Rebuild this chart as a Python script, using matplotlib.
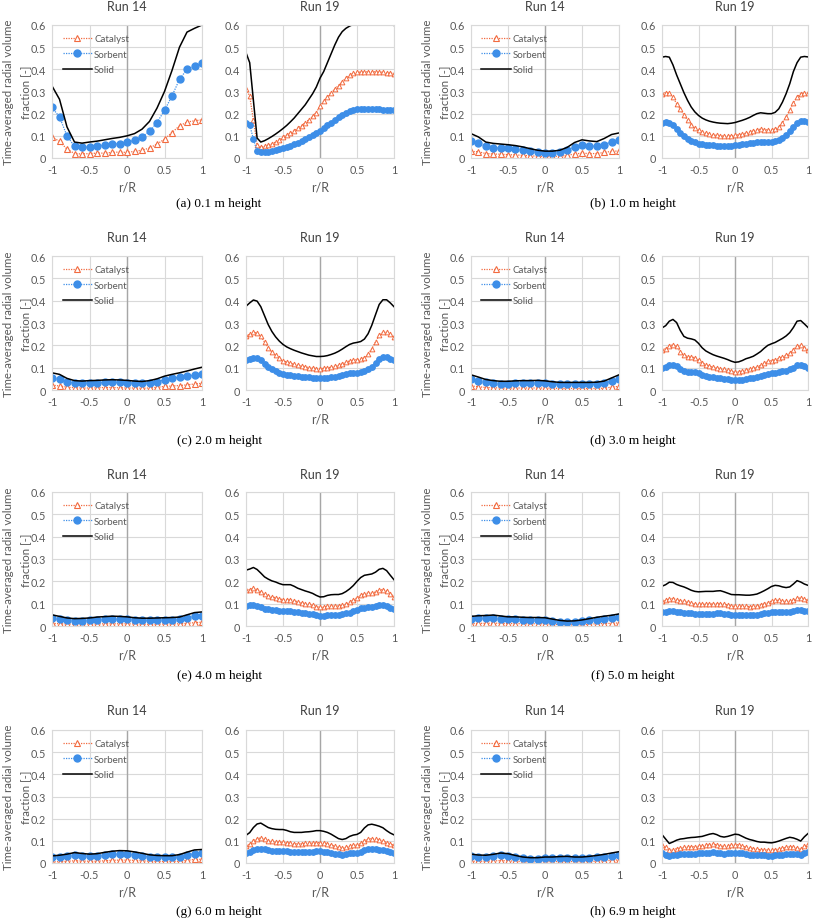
import numpy as np
import matplotlib.pyplot as plt

# r/R sample positions: Run 14 every 0.1, Run 19 every 0.05
x14 = np.linspace(-1, 1, 21)
x19 = np.linspace(-1, 1, 41)

heights = ['(a) 0.1 m height', '(b) 1.0 m height', '(c) 2.0 m height', '(d) 3.0 m height',
           '(e) 4.0 m height', '(f) 5.0 m height', '(g) 6.0 m height', '(h) 6.9 m height']

### (a) 0.1 m
cat14_a = [0.095, 0.075, 0.04, 0.02, 0.018, 0.02, 0.022, 0.022, 0.025, 0.027, 0.025,
           0.03, 0.035, 0.045, 0.063, 0.085, 0.115, 0.145, 0.162, 0.168, 0.172]
sor14_a = [0.228, 0.185, 0.10, 0.052, 0.048, 0.05, 0.053, 0.058, 0.062, 0.065, 0.07,
           0.08, 0.095, 0.12, 0.16, 0.215, 0.28, 0.355, 0.40, 0.415, 0.428]
sol14_a = [0.325, 0.265, 0.14, 0.072, 0.067, 0.072, 0.076, 0.082, 0.088, 0.093, 0.1,
           0.11, 0.13, 0.165, 0.225, 0.3, 0.395, 0.5, 0.568, 0.585, 0.6]
cat19_a = [0.31, 0.28, 0.17, 0.06, 0.05, 0.052, 0.058, 0.065, 0.072, 0.08, 0.095,
           0.104, 0.113, 0.123, 0.134, 0.146, 0.159, 0.173, 0.188, 0.205, 0.235,
           0.255, 0.275, 0.295, 0.312, 0.327, 0.345, 0.36, 0.373, 0.382, 0.386,
           0.388, 0.389, 0.389, 0.389, 0.389, 0.388, 0.387, 0.385, 0.383, 0.381]
sor19_a = [0.16, 0.15, 0.085, 0.03, 0.025, 0.026, 0.029, 0.032, 0.036, 0.04, 0.045,
           0.05, 0.056, 0.062, 0.069, 0.076, 0.084, 0.093, 0.102, 0.112, 0.123,
           0.135, 0.148, 0.16, 0.172, 0.185, 0.196, 0.205, 0.212, 0.217, 0.219,
           0.22, 0.22, 0.22, 0.22, 0.22, 0.219, 0.218, 0.217, 0.216, 0.215]
sol19_a = [0.475, 0.43, 0.26, 0.09, 0.072, 0.078, 0.087, 0.097, 0.108, 0.12, 0.133,
           0.147, 0.163, 0.18, 0.2, 0.22, 0.24, 0.265, 0.29, 0.32, 0.36,
           0.39, 0.43, 0.47, 0.51, 0.545, 0.57, 0.585, 0.595, 0.603, 0.607,
           0.608, 0.608, 0.608, 0.608, 0.608, 0.607, 0.607, 0.606, 0.61, 0.598]

### (b) 1.0 m
cat14_b = [0.03, 0.028, 0.02, 0.018, 0.017, 0.015, 0.014, 0.012, 0.01, 0.008, 0.007,
           0.007, 0.008, 0.012, 0.018, 0.022, 0.02, 0.02, 0.025, 0.03, 0.032]
sor14_b = [0.077, 0.068, 0.052, 0.047, 0.045, 0.043, 0.04, 0.036, 0.03, 0.025, 0.022,
           0.022, 0.025, 0.035, 0.05, 0.058, 0.055, 0.052, 0.06, 0.074, 0.08]
sol14_b = [0.11, 0.095, 0.072, 0.066, 0.063, 0.06, 0.056, 0.05, 0.042, 0.035, 0.031,
           0.031, 0.035, 0.048, 0.07, 0.082, 0.077, 0.074, 0.088, 0.106, 0.113]
cat19_b = [0.29, 0.295, 0.295, 0.275, 0.245, 0.22, 0.195, 0.17, 0.15, 0.135, 0.125,
           0.118, 0.112, 0.107, 0.104, 0.102, 0.1, 0.099, 0.099, 0.1, 0.102,
           0.105, 0.108, 0.112, 0.117, 0.122, 0.128, 0.13, 0.128, 0.127, 0.127,
           0.13, 0.14, 0.16, 0.185, 0.215, 0.25, 0.275, 0.29, 0.293, 0.292]
sor19_b = [0.16, 0.163, 0.16, 0.148, 0.13, 0.115, 0.1, 0.087, 0.077, 0.07, 0.065,
           0.061, 0.059, 0.058, 0.057, 0.056, 0.056, 0.056, 0.056, 0.056, 0.057,
           0.059, 0.061, 0.063, 0.066, 0.069, 0.072, 0.073, 0.072, 0.072, 0.073,
           0.076, 0.082, 0.092, 0.105, 0.122, 0.142, 0.158, 0.165, 0.165, 0.164]
sol19_b = [0.455, 0.458, 0.455, 0.42, 0.375, 0.335, 0.295, 0.26, 0.23, 0.208, 0.192,
           0.18, 0.172, 0.166, 0.162, 0.159, 0.157, 0.156, 0.155, 0.157, 0.16,
           0.165, 0.17, 0.176, 0.183, 0.192, 0.2, 0.204, 0.202, 0.2, 0.2,
           0.206, 0.222, 0.252, 0.29, 0.335, 0.39, 0.43, 0.455, 0.458, 0.456]

### (c) 2.0 m
cat14_c = [0.022, 0.018, 0.013, 0.01, 0.009, 0.009, 0.01, 0.011, 0.011, 0.01, 0.009,
           0.009, 0.008, 0.009, 0.012, 0.016, 0.018, 0.02, 0.023, 0.027, 0.03]
sor14_c = [0.055, 0.05, 0.038, 0.031, 0.03, 0.032, 0.033, 0.034, 0.035, 0.034, 0.033,
           0.031, 0.03, 0.032, 0.037, 0.045, 0.052, 0.057, 0.062, 0.067, 0.072]
sol14_c = [0.077, 0.07, 0.052, 0.042, 0.04, 0.042, 0.043, 0.045, 0.046, 0.045, 0.043,
           0.04, 0.038, 0.042, 0.05, 0.062, 0.07, 0.077, 0.085, 0.094, 0.102]
cat19_c = [0.24, 0.25, 0.258, 0.255, 0.24, 0.215, 0.19, 0.17, 0.155, 0.142, 0.132,
           0.125, 0.12, 0.115, 0.111, 0.107, 0.104, 0.1, 0.098, 0.096, 0.096,
           0.097, 0.099, 0.102, 0.106, 0.111, 0.117, 0.124, 0.13, 0.134, 0.136,
           0.138, 0.145, 0.16, 0.185, 0.215, 0.245, 0.258, 0.258, 0.25, 0.238]
sor19_c = [0.135, 0.14, 0.145, 0.143, 0.133, 0.118, 0.103, 0.092, 0.083, 0.077, 0.072,
           0.068, 0.065, 0.063, 0.061, 0.059, 0.057, 0.056, 0.055, 0.054, 0.054,
           0.054, 0.055, 0.057, 0.059, 0.062, 0.066, 0.07, 0.074, 0.076, 0.077,
           0.079, 0.083, 0.092, 0.105, 0.122, 0.138, 0.146, 0.146, 0.14, 0.135]
sol19_c = [0.375, 0.39, 0.403, 0.398, 0.373, 0.333, 0.293, 0.262, 0.238, 0.219, 0.204,
           0.193, 0.185, 0.178, 0.172, 0.166, 0.161, 0.156, 0.153, 0.15, 0.15,
           0.151, 0.154, 0.159, 0.165, 0.173, 0.183, 0.194, 0.204, 0.21, 0.213,
           0.217, 0.228, 0.252, 0.29, 0.337, 0.383, 0.404, 0.404, 0.39, 0.373]

### (d) 3.0 m
cat14_d = [0.018, 0.015, 0.011, 0.01, 0.009, 0.009, 0.009, 0.009, 0.009, 0.009, 0.009,
           0.008, 0.007, 0.007, 0.007, 0.007, 0.007, 0.007, 0.008, 0.013, 0.016]
sor14_d = [0.048, 0.042, 0.035, 0.031, 0.029, 0.029, 0.031, 0.032, 0.032, 0.033, 0.031,
           0.028, 0.026, 0.026, 0.026, 0.026, 0.026, 0.027, 0.03, 0.04, 0.049]
sol14_d = [0.068, 0.058, 0.047, 0.042, 0.039, 0.039, 0.041, 0.042, 0.042, 0.043, 0.041,
           0.037, 0.034, 0.034, 0.034, 0.034, 0.034, 0.035, 0.04, 0.054, 0.068]
cat19_d = [0.178, 0.185, 0.198, 0.203, 0.195, 0.172, 0.155, 0.15, 0.148, 0.145, 0.135,
           0.122, 0.113, 0.107, 0.102, 0.098, 0.095, 0.092, 0.088, 0.083, 0.08,
           0.081, 0.085, 0.09, 0.093, 0.097, 0.103, 0.11, 0.12, 0.128, 0.132,
           0.136, 0.142, 0.148, 0.155, 0.165, 0.18, 0.198, 0.2, 0.19, 0.18]
sor19_d = [0.1, 0.103, 0.11, 0.113, 0.107, 0.095, 0.085, 0.082, 0.081, 0.079, 0.074,
           0.067, 0.062, 0.059, 0.056, 0.054, 0.052, 0.05, 0.048, 0.046, 0.044,
           0.045, 0.047, 0.05, 0.052, 0.054, 0.058, 0.062, 0.067, 0.072, 0.075,
           0.077, 0.08, 0.083, 0.087, 0.092, 0.1, 0.11, 0.111, 0.106, 0.1]
sol19_d = [0.278, 0.288, 0.308, 0.316, 0.302, 0.267, 0.24, 0.232, 0.229, 0.224, 0.209,
           0.189, 0.175, 0.166, 0.158, 0.152, 0.147, 0.142, 0.136, 0.129, 0.124,
           0.126, 0.132, 0.14, 0.145, 0.151, 0.161, 0.172, 0.187, 0.2, 0.207,
           0.213, 0.222, 0.231, 0.242, 0.257, 0.28, 0.308, 0.311, 0.296, 0.28]

### (e) 4.0 m
cat14_e = [0.012, 0.01, 0.009, 0.008, 0.008, 0.009, 0.009, 0.01, 0.01, 0.01, 0.01,
           0.009, 0.008, 0.008, 0.008, 0.009, 0.009, 0.01, 0.012, 0.015, 0.017]
sor14_e = [0.035, 0.03, 0.026, 0.024, 0.024, 0.026, 0.028, 0.03, 0.031, 0.031, 0.03,
           0.027, 0.025, 0.025, 0.026, 0.027, 0.028, 0.03, 0.036, 0.043, 0.045]
sol14_e = [0.05, 0.043, 0.036, 0.033, 0.034, 0.036, 0.04, 0.042, 0.044, 0.043, 0.041,
           0.037, 0.035, 0.035, 0.036, 0.037, 0.038, 0.04, 0.05, 0.06, 0.063]
cat19_e = [0.16, 0.163, 0.168, 0.163, 0.153, 0.142, 0.135, 0.13, 0.127, 0.122, 0.118,
           0.118, 0.118, 0.114, 0.108, 0.104, 0.1, 0.097, 0.093, 0.087, 0.083,
           0.084, 0.088, 0.09, 0.09, 0.09, 0.092, 0.098, 0.106, 0.115, 0.127,
           0.138, 0.145, 0.147, 0.148, 0.152, 0.16, 0.163, 0.158, 0.145, 0.132]
sor19_e = [0.09, 0.092, 0.094, 0.09, 0.084, 0.078, 0.075, 0.072, 0.07, 0.068, 0.067,
           0.067, 0.067, 0.064, 0.061, 0.059, 0.057, 0.055, 0.053, 0.05, 0.047,
           0.047, 0.049, 0.05, 0.051, 0.051, 0.053, 0.056, 0.06, 0.066, 0.073,
           0.079, 0.082, 0.083, 0.085, 0.089, 0.094, 0.095, 0.09, 0.082, 0.075]
sol19_e = [0.25, 0.255, 0.262, 0.253, 0.237, 0.22, 0.21, 0.202, 0.197, 0.19, 0.185,
           0.185, 0.185, 0.178, 0.169, 0.163, 0.157, 0.152, 0.146, 0.137, 0.13,
           0.131, 0.137, 0.14, 0.141, 0.141, 0.145, 0.154, 0.166, 0.181, 0.2,
           0.217, 0.227, 0.23, 0.233, 0.241, 0.254, 0.258, 0.248, 0.227, 0.207]

### (f) 5.0 m
cat14_f = [0.01, 0.012, 0.012, 0.013, 0.012, 0.011, 0.011, 0.01, 0.01, 0.01, 0.01,
           0.008, 0.006, 0.005, 0.005, 0.006, 0.008, 0.01, 0.011, 0.012, 0.014]
sor14_f = [0.033, 0.034, 0.035, 0.036, 0.033, 0.03, 0.03, 0.029, 0.028, 0.028, 0.027,
           0.023, 0.019, 0.017, 0.018, 0.021, 0.025, 0.029, 0.033, 0.036, 0.04]
sol14_f = [0.043, 0.046, 0.047, 0.049, 0.045, 0.041, 0.041, 0.039, 0.038, 0.038, 0.037,
           0.031, 0.025, 0.022, 0.023, 0.027, 0.033, 0.039, 0.044, 0.048, 0.054]
cat19_f = [0.11, 0.115, 0.122, 0.123, 0.118, 0.113, 0.11, 0.106, 0.102, 0.099, 0.097,
           0.097, 0.098, 0.098, 0.099, 0.1, 0.1, 0.098, 0.094, 0.09, 0.088,
           0.088, 0.088, 0.088, 0.087, 0.088, 0.09, 0.095, 0.1, 0.105, 0.112,
           0.115, 0.115, 0.112, 0.11, 0.11, 0.115, 0.125, 0.125, 0.12, 0.115]
sor19_f = [0.062, 0.064, 0.067, 0.067, 0.064, 0.061, 0.059, 0.058, 0.056, 0.055, 0.054,
           0.054, 0.054, 0.055, 0.055, 0.056, 0.056, 0.055, 0.053, 0.051, 0.05,
           0.049, 0.049, 0.049, 0.049, 0.049, 0.05, 0.053, 0.056, 0.059, 0.062,
           0.064, 0.064, 0.062, 0.061, 0.062, 0.065, 0.07, 0.07, 0.067, 0.065]
sol19_f = [0.178, 0.185, 0.196, 0.195, 0.186, 0.18, 0.175, 0.168, 0.16, 0.155, 0.153,
           0.154, 0.155, 0.155, 0.155, 0.157, 0.158, 0.153, 0.147, 0.141, 0.14,
           0.14, 0.139, 0.138, 0.138, 0.14, 0.143, 0.15, 0.158, 0.167, 0.177,
           0.182, 0.18, 0.175, 0.172, 0.175, 0.188, 0.203, 0.197, 0.188, 0.182]

### (g) 6.0 m
cat14_g = [0.005, 0.006, 0.008, 0.01, 0.009, 0.008, 0.008, 0.01, 0.012, 0.013, 0.013,
           0.012, 0.01, 0.008, 0.007, 0.007, 0.007, 0.008, 0.012, 0.016, 0.017]
sor14_g = [0.025, 0.027, 0.031, 0.036, 0.033, 0.03, 0.031, 0.035, 0.039, 0.041, 0.041,
           0.038, 0.033, 0.028, 0.026, 0.025, 0.025, 0.029, 0.036, 0.042, 0.043]
sol14_g = [0.032, 0.035, 0.04, 0.047, 0.043, 0.04, 0.042, 0.048, 0.053, 0.056, 0.055,
           0.05, 0.044, 0.037, 0.034, 0.033, 0.033, 0.038, 0.049, 0.059, 0.061]
cat19_g = [0.078, 0.085, 0.1, 0.11, 0.113, 0.108, 0.1, 0.097, 0.095, 0.094, 0.094,
           0.092, 0.089, 0.087, 0.087, 0.087, 0.088, 0.089, 0.09, 0.092, 0.092,
           0.09, 0.087, 0.082, 0.076, 0.07, 0.068, 0.07, 0.076, 0.08, 0.082,
           0.088, 0.1, 0.108, 0.11, 0.107, 0.104, 0.1, 0.092, 0.085, 0.08]
sor19_g = [0.045, 0.05, 0.058, 0.064, 0.065, 0.062, 0.058, 0.056, 0.055, 0.054, 0.053,
           0.052, 0.05, 0.049, 0.049, 0.049, 0.05, 0.05, 0.051, 0.052, 0.052,
           0.051, 0.049, 0.046, 0.042, 0.039, 0.038, 0.04, 0.043, 0.045, 0.047,
           0.05, 0.057, 0.062, 0.063, 0.062, 0.06, 0.057, 0.052, 0.048, 0.045]
sol19_g = [0.125, 0.137, 0.16, 0.176, 0.18, 0.17, 0.16, 0.155, 0.152, 0.151, 0.151,
           0.147, 0.141, 0.138, 0.138, 0.138, 0.14, 0.141, 0.143, 0.146, 0.146,
           0.143, 0.138, 0.13, 0.12, 0.11, 0.106, 0.11, 0.12, 0.126, 0.129,
           0.138, 0.158, 0.172, 0.175, 0.171, 0.166, 0.159, 0.146, 0.135, 0.127]

### (h) 6.9 m
cat14_h = [0.008, 0.008, 0.008, 0.009, 0.011, 0.01, 0.008, 0.006, 0.005, 0.005, 0.006,
           0.006, 0.007, 0.007, 0.006, 0.006, 0.007, 0.008, 0.01, 0.012, 0.014]
sor14_h = [0.032, 0.028, 0.027, 0.03, 0.034, 0.032, 0.026, 0.021, 0.019, 0.019, 0.021,
           0.021, 0.022, 0.023, 0.021, 0.021, 0.023, 0.026, 0.029, 0.033, 0.037]
sol14_h = [0.04, 0.036, 0.035, 0.039, 0.045, 0.042, 0.034, 0.027, 0.024, 0.024, 0.027,
           0.027, 0.029, 0.03, 0.027, 0.027, 0.03, 0.034, 0.039, 0.045, 0.051]
cat19_h = [0.08, 0.07, 0.057, 0.06, 0.065, 0.068, 0.07, 0.072, 0.073, 0.074, 0.075,
           0.076, 0.08, 0.083, 0.085, 0.082, 0.077, 0.075, 0.077, 0.08, 0.083,
           0.082, 0.077, 0.072, 0.068, 0.065, 0.062, 0.06, 0.06, 0.059, 0.058,
           0.06, 0.063, 0.067, 0.071, 0.074, 0.072, 0.068, 0.063, 0.075, 0.085]
sor19_h = [0.045, 0.038, 0.032, 0.034, 0.037, 0.039, 0.04, 0.041, 0.042, 0.042, 0.043,
           0.043, 0.045, 0.047, 0.048, 0.046, 0.043, 0.042, 0.043, 0.045, 0.047,
           0.046, 0.043, 0.04, 0.038, 0.037, 0.035, 0.034, 0.034, 0.033, 0.033,
           0.034, 0.036, 0.038, 0.04, 0.042, 0.041, 0.039, 0.036, 0.043, 0.048]
sol19_h = [0.128, 0.108, 0.088, 0.095, 0.103, 0.108, 0.11, 0.113, 0.115, 0.116, 0.118,
           0.12, 0.125, 0.13, 0.133, 0.128, 0.12, 0.117, 0.12, 0.125, 0.13,
           0.128, 0.12, 0.112, 0.106, 0.102, 0.097, 0.094, 0.094, 0.092, 0.091,
           0.094, 0.099, 0.105, 0.111, 0.116, 0.113, 0.107, 0.099, 0.118, 0.133]

run14 = [(cat14_a, sor14_a, sol14_a), (cat14_b, sor14_b, sol14_b), (cat14_c, sor14_c, sol14_c),
         (cat14_d, sor14_d, sol14_d), (cat14_e, sor14_e, sol14_e), (cat14_f, sor14_f, sol14_f),
         (cat14_g, sor14_g, sol14_g), (cat14_h, sor14_h, sol14_h)]
run19 = [(cat19_a, sor19_a, sol19_a), (cat19_b, sor19_b, sol19_b), (cat19_c, sor19_c, sol19_c),
         (cat19_d, sor19_d, sol19_d), (cat19_e, sor19_e, sol19_e), (cat19_f, sor19_f, sol19_f),
         (cat19_g, sor19_g, sol19_g), (cat19_h, sor19_h, sol19_h)]

CAT = '#F26B40'
SOR = '#3D8EE8'
GREY = '#595959'
GRID = '#D9D9D9'
FONT = 'Lato'

W, H = 813, 920
fig = plt.figure(figsize=(W / 100, H / 100), dpi=100)

# pixel layout: plot boxes (left, right) per column and (top, bottom) per row
row_tb = [(26, 159), (257, 391), (493, 627), (731, 864)]
col_lr = [[(52, 202), (246, 394)], [(471, 619), (662, 808)]]
title_dy = [19, 19, 18, 20]
cap_dy = [45, 50, 49, 48]
cap_x = [219, 633]
ylab_x = [17, 436]


def px_axes(l, r, t, b):
    return fig.add_axes([l / W, 1 - b / H, (r - l) / W, (b - t) / H])


def ftext(x, y, s, **kw):
    # place text at pixel position (x from left, y from top)
    return fig.text(x / W, 1 - y / H, s, **kw)


def style_axes(ax, title, l, r, t, b, dy):
    ax.set_xlim(-1, 1)
    ax.set_ylim(0, 0.6)
    ax.set_xticks([-1, -0.5, 0, 0.5, 1])
    ax.set_xticklabels(['-1', '-0.5', '0', '0.5', '1'])
    ax.set_yticks([0, 0.1, 0.2, 0.3, 0.4, 0.5, 0.6])
    ax.set_yticklabels(['0', '0.1', '0.2', '0.3', '0.4', '0.5', '0.6'])
    ax.tick_params(length=0, labelsize=7.8, labelcolor=GREY, pad=4.5)
    for lab in ax.get_xticklabels() + ax.get_yticklabels():
        lab.set_fontfamily(FONT)
    ax.grid(True, color=GRID, lw=0.8)
    ax.set_axisbelow(True)
    for s in ax.spines.values():
        s.set_color(GRID)
        s.set_linewidth(0.8)
    ax.axvline(0, color='#A6A6A6', lw=1.0, zorder=1)
    ftext((l + r) / 2, t - dy, title, ha='center', va='center',
          fontsize=9, color='#404040', family=FONT)
    ftext((l + r) / 2, b + 29, 'r/R', ha='center', va='center',
          fontsize=9, color=GREY, family=FONT)


for i in range(8):
    r, c = i // 2, i % 2
    t, b = row_tb[r]
    (l14, r14), (l19, r19) = col_lr[c]

    ax = px_axes(l14, r14, t, b)
    style_axes(ax, 'Run 14', l14, r14, t, b, title_dy[r])
    cat, sor, sol = run14[i]
    ax.plot(x14, cat, ls=(0, (1, 1)), lw=0.9, color=CAT, marker='^', ms=4.5,
            mfc='white', mec=CAT, mew=0.8, label='Catalyst')
    ax.plot(x14, sor, ls=(0, (1, 1)), lw=0.9, color=SOR, marker='o', ms=5,
            mfc=SOR, mec=SOR, label='Sorbent')
    ax.plot(x14, sol, '-', lw=1.1, color='black', label='Solid')
    ax.legend(loc='upper left', bbox_to_anchor=(0.07, 0.93), frameon=False,
              borderpad=0, borderaxespad=0, handlelength=3.0, handletextpad=0.25,
              labelspacing=0.65, prop={'family': FONT, 'size': 7}, labelcolor=GREY)

    ax2 = px_axes(l19, r19, t, b)
    style_axes(ax2, 'Run 19', l19, r19, t, b, title_dy[r])
    cat, sor, sol = run19[i]
    ax2.plot(x19, cat, ls=(0, (1, 1)), lw=0.9, color=CAT, marker='^', ms=3.4,
             mfc='white', mec=CAT, mew=0.7)
    ax2.plot(x19, sor, ls=(0, (1, 1)), lw=0.9, color=SOR, marker='o', ms=3.9,
             mfc=SOR, mec=SOR)
    ax2.plot(x19, sol, '-', lw=1.1, color='black')

    ftext(ylab_x[c], (t + b) / 2, 'Time-averaged radial volume\nfraction [-]',
          rotation=90, ha='center', va='center', multialignment='center',
          fontsize=8.3, color=GREY, family=FONT, linespacing=1.75)
    ftext(cap_x[c], b + cap_dy[r], heights[i], ha='center', va='center',
          fontsize=9.5, color='black', family='Liberation Serif')

fig.savefig('out.png', dpi=100, facecolor='white')
